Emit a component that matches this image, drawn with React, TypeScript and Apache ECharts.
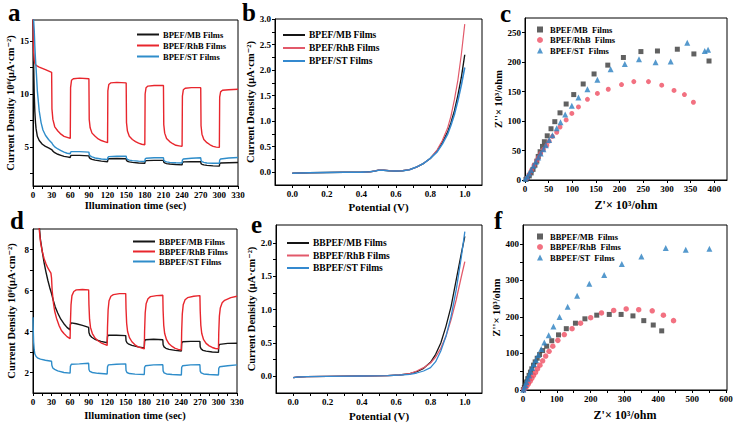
import React, { useEffect, useRef } from "react";
import * as echarts from "echarts";

// ---------- Panel a : BPEF photocurrent ----------
const aMB = [[0,18],[1,13],[2,10],[3,8.3],[4,7.3],[5,6.7],[7,6.0],[10,5.6],[15,5.25],[20,5.05],[25,4.9],[30,4.75],[32,4.6],[35,4.45],[40,4.3],[45,4.2],[50,4.1],[55,4.05],[60,4.0],
[60.5,4.15],[62,4.2],[75,4.2],[90,4.15],[90.5,4.0],[92,3.9],[95,3.82],[100,3.75],[110,3.65],[120,3.6],
[120.5,3.8],[122,3.88],[135,3.9],[150,3.88],[150.5,3.72],[152,3.64],[155,3.58],[160,3.53],[170,3.48],[180,3.45],
[180.5,3.62],[182,3.7],[195,3.72],[210,3.72],[210.5,3.55],[212,3.48],[215,3.42],[220,3.38],[230,3.33],[240,3.3],
[240.5,3.5],[242,3.58],[255,3.6],[270,3.6],[270.5,3.42],[272,3.35],[275,3.3],[280,3.25],[290,3.2],[300,3.18],
[300.5,3.4],[302,3.48],[315,3.5],[330,3.52]];
const aRhB = [[0,17.5],[1,14],[2,13.2],[3,12.9],[5,12.7],[10,12.55],[20,12.3],[30,12.05],
[30.5,8.6],[32,7.6],[35,6.9],[40,6.5],[45,6.2],[50,6.0],[55,5.9],[60,5.8],
[60.5,10.6],[62,11.3],[65,11.45],[75,11.5],[90,11.45],
[90.5,7.6],[92,6.8],[95,6.3],[100,6.0],[105,5.75],[110,5.6],[115,5.5],[120,5.4],
[120.5,10.3],[122,10.9],[125,11.05],[135,11.1],[150,11.05],
[150.5,7.3],[152,6.5],[155,6.0],[160,5.7],[165,5.5],[170,5.35],[175,5.25],[180,5.2],
[180.5,10.0],[182,10.6],[185,10.75],[195,10.8],[210,10.8],
[210.5,7.1],[212,6.3],[215,5.8],[220,5.5],[225,5.3],[230,5.15],[235,5.1],[240,5.05],
[240.5,9.8],[242,10.4],[245,10.55],[255,10.6],[270,10.6],
[270.5,7.0],[272,6.2],[275,5.7],[280,5.4],[285,5.2],[290,5.05],[295,4.98],[300,4.95],
[300.5,9.7],[302,10.2],[305,10.35],[315,10.4],[330,10.45]];
const aST = [[0,18],[2,16],[3,14.5],[4,13.3],[5,12.4],[7,10.3],[10,8.4],[13,7.3],[16,6.6],[20,6.1],[25,5.7],[30,5.4],[32,5.2],[35,5.0],[40,4.8],[45,4.65],[50,4.5],[55,4.4],[60,4.35],
[60.5,4.5],[62,4.55],[75,4.55],[90,4.5],[90.5,4.3],[92,4.15],[95,4.05],[100,3.95],[110,3.85],[120,3.8],
[120.5,4.0],[122,4.08],[135,4.12],[150,4.12],[150.5,3.92],[152,3.82],[155,3.75],[160,3.7],[170,3.65],[180,3.62],
[180.5,3.85],[182,3.93],[195,3.97],[210,3.97],[210.5,3.75],[212,3.65],[215,3.58],[220,3.53],[230,3.5],[240,3.48],
[240.5,3.75],[242,3.85],[255,3.92],[270,3.97],[270.5,3.72],[272,3.6],[275,3.53],[280,3.48],[290,3.45],[300,3.45],
[300.5,3.75],[302,3.85],[315,3.95],[330,4.0]];

// ---------- Panel b : BPEF LSV ----------
const bMB = [[0,-0.02],[0.05,-0.015],[0.1,-0.01],[0.2,-0.005],[0.3,0],[0.4,0.003],[0.45,0.008],[0.48,0.025],[0.5,0.04],[0.53,0.04],[0.56,0.03],[0.6,0.025],[0.64,0.03],[0.68,0.05],[0.72,0.1],[0.76,0.17],[0.8,0.27],[0.84,0.42],[0.87,0.58],[0.9,0.78],[0.92,0.97],[0.94,1.2],[0.96,1.5],[0.98,1.85],[1.0,2.3]];
const bRhB = [[0,-0.02],[0.05,-0.015],[0.1,-0.01],[0.2,-0.005],[0.3,0],[0.4,0.003],[0.45,0.008],[0.48,0.025],[0.5,0.04],[0.53,0.04],[0.56,0.03],[0.6,0.025],[0.64,0.03],[0.68,0.05],[0.72,0.1],[0.76,0.17],[0.8,0.27],[0.84,0.44],[0.87,0.62],[0.9,0.86],[0.92,1.1],[0.94,1.42],[0.96,1.8],[0.98,2.3],[1.0,2.9]];
const bST = [[0,-0.02],[0.05,-0.015],[0.1,-0.01],[0.2,-0.005],[0.3,0],[0.4,0.003],[0.45,0.008],[0.48,0.025],[0.5,0.04],[0.53,0.04],[0.56,0.03],[0.6,0.025],[0.64,0.03],[0.68,0.05],[0.72,0.1],[0.76,0.17],[0.8,0.27],[0.84,0.4],[0.87,0.55],[0.9,0.74],[0.92,0.92],[0.94,1.13],[0.96,1.4],[0.98,1.7],[1.0,2.05]];

// ---------- Panel c : BPEF Nyquist ----------
const cMB = [[389,202],[357,214],[322,222],[280,219],[245,218],[208,208],[175,195],[146,180],[123,163],[103,145],[87,129],[74,114],[63,99],[55,87],[47,75],[41,65],[37,57],[32,48],[28,40],[25,32],[21,25],[17,18],[13,12],[9,7],[5,3],[2,1]];
const cRhB = [[356,132],[337,145],[315,152],[289,161],[261,167],[230,167],[204,162],[176,154],[153,147],[132,137],[113,124],[99,113],[87,102],[74,90],[67,81],[58,74],[51,66],[46,59],[39,52],[33,45],[28,38],[25,33],[19,25],[14,17],[9,10],[4,3]];
const cST = [[387,221],[380,219],[343,233],[308,201],[276,200],[241,205],[211,197],[181,188],[153,170],[132,154],[113,140],[99,126],[85,111],[75,98],[67,88],[58,76],[51,68],[44,59],[39,52],[33,45],[28,38],[23,31],[18,24],[13,17],[9,11],[5,6],[1,2]];

// ---------- Panel d : BBPEF photocurrent ----------
const dMB = [[9,9.6],[10,9.2],[12,8.5],[15,7.9],[18,7.35],[21,6.9],[24,6.5],[27,6.15],[30,5.85],[33,5.5],[36,5.2],[40,4.9],[45,4.6],[50,4.38],[55,4.2],[60,4.08],
[60.5,4.35],[62,4.42],[70,4.38],[80,4.3],[90,4.2],
[90.5,3.95],[92,3.82],[95,3.72],[100,3.62],[110,3.52],[120,3.45],
[120.5,3.75],[122,3.82],[135,3.82],[150,3.8],
[150.5,3.55],[152,3.45],[155,3.38],[160,3.32],[170,3.25],[180,3.2],
[180.5,3.52],[182,3.6],[195,3.62],[210,3.6],
[210.5,3.35],[212,3.25],[215,3.18],[220,3.13],[230,3.08],[240,3.05],
[240.5,3.42],[242,3.5],[255,3.52],[270,3.52],
[270.5,3.25],[272,3.15],[275,3.08],[280,3.04],[290,3.0],[300,2.98],
[300.5,3.3],[302,3.37],[315,3.42],[330,3.43]];
const dRhB = [[8,9.6],[10,9.0],[12,8.4],[15,7.9],[18,7.55],[21,7.3],[24,7.1],[27,6.95],[29,6.85],[30,6.6],[31,6.0],[33,5.4],[35,5.0],[38,4.65],[42,4.3],[46,4.05],[50,3.9],[55,3.75],[60,3.65],
[60.5,4.4],[61.5,5.3],[63,5.75],[66,5.95],[70,6.03],[80,6.05],[90,6.03],
[90.5,5.3],[91.5,4.6],[93,4.2],[96,3.9],[100,3.7],[105,3.55],[110,3.45],[115,3.38],[120,3.32],
[120.5,4.2],[121.5,5.05],[123,5.5],[126,5.72],[130,5.8],[140,5.85],[150,5.85],
[150.5,5.1],[151.5,4.4],[153,4.0],[156,3.7],[160,3.5],[165,3.35],[170,3.25],[175,3.2],[180,3.15],
[180.5,4.0],[181.5,4.9],[183,5.35],[186,5.6],[190,5.7],[200,5.75],[210,5.77],
[210.5,5.0],[211.5,4.3],[213,3.9],[216,3.6],[220,3.4],[225,3.27],[230,3.18],[235,3.13],[240,3.1],
[240.5,4.0],[241.5,4.85],[243,5.3],[246,5.55],[250,5.65],[260,5.72],[270,5.75],
[270.5,5.0],[271.5,4.3],[273,3.9],[276,3.6],[280,3.42],[285,3.3],[290,3.22],[295,3.17],[300,3.15],
[300.5,3.95],[301.5,4.75],[303,5.15],[306,5.4],[310,5.52],[320,5.65],[330,5.72]];
const dST = [[0,4.7],[0.5,4.0],[1,3.5],[2,3.1],[3,2.9],[5,2.78],[8,2.7],[12,2.65],[20,2.6],[30,2.55],
[30.5,2.35],[32,2.22],[35,2.15],[40,2.08],[50,2.0],[60,1.97],
[60.5,2.3],[62,2.4],[75,2.42],[90,2.45],
[90.5,2.15],[92,2.05],[96,2.0],[105,1.96],[120,1.93],
[120.5,2.28],[122,2.37],[135,2.4],[150,2.42],
[150.5,2.1],[152,2.0],[156,1.95],[165,1.92],[180,1.9],
[180.5,2.25],[182,2.33],[195,2.37],[210,2.38],
[210.5,2.08],[212,1.98],[216,1.93],[225,1.9],[240,1.88],
[240.5,2.25],[242,2.33],[255,2.37],[270,2.38],
[270.5,2.07],[272,1.98],[276,1.93],[285,1.9],[300,1.88],
[300.5,2.2],[302,2.28],[315,2.33],[330,2.37]];

// ---------- Panel e : BBPEF LSV ----------
const eMB = [[0,-0.02],[0.03,-0.01],[0.08,-0.003],[0.2,0],[0.4,0.005],[0.55,0.01],[0.62,0.02],[0.68,0.04],[0.72,0.07],[0.76,0.12],[0.8,0.21],[0.83,0.33],[0.86,0.5],[0.89,0.75],[0.92,1.05],[0.95,1.45],[0.98,1.85],[1.0,2.1]];
const eRhB = [[0,-0.02],[0.03,-0.01],[0.08,-0.003],[0.2,0],[0.4,0.005],[0.55,0.01],[0.62,0.02],[0.68,0.04],[0.72,0.08],[0.76,0.13],[0.8,0.2],[0.83,0.29],[0.86,0.42],[0.89,0.6],[0.92,0.85],[0.95,1.15],[0.98,1.5],[1.0,1.72]];
const eST = [[0,-0.02],[0.03,-0.01],[0.08,-0.003],[0.2,0],[0.4,0.005],[0.55,0.01],[0.62,0.02],[0.68,0.03],[0.72,0.05],[0.76,0.08],[0.8,0.13],[0.83,0.22],[0.86,0.38],[0.89,0.6],[0.92,0.9],[0.95,1.3],[0.98,1.8],[1.0,2.17]];

// ---------- Panel f : BBPEF Nyquist ----------
const fMB = [[410,162],[385,178],[357,190],[325,203],[290,207],[255,207],[218,205],[183,195],[155,183],[128,168],[105,151],[85,135],[70,120],[58,108],[49,97],[42,87],[36,77],[31,68],[26,58],[22,49],[18,40],[14,31],[10,22],[7,14],[4,7],[1,1]];
const fRhB = [[445,190],[415,205],[382,217],[342,220],[305,222],[268,218],[232,211],[200,198],[170,183],[145,168],[122,152],[103,136],[88,120],[77,106],[67,93],[58,80],[50,68],[43,58],[37,48],[31,40],[26,32],[21,24],[16,17],[11,10],[6,5],[2,1]];
const fST = [[551,387],[481,384],[422,389],[350,366],[292,345],[240,315],[196,291],[160,258],[132,228],[108,200],[90,174],[76,150],[63,130],[54,112],[45,96],[38,82],[32,71],[27,60],[22,50],[18,40],[14,31],[10,22],[7,14],[4,7],[1,1]];

// ---------- Tick labels ----------
const timeTicks = [0, 30, 60, 90, 120, 150, 180, 210, 240, 270, 300, 330];
const timeMinor = [15, 45, 75, 105, 135, 165, 195, 225, 255, 285, 315];
const aYTicks = [5, 10, 15];
const aYMinor = [2.5, 7.5, 12.5];
const potTicks = [0, 0.2, 0.4, 0.6, 0.8, 1.0];
const potMinor = [0.1, 0.3, 0.5, 0.7, 0.9];
const bYTicks = [0, 0.5, 1.0, 1.5, 2.0, 2.5, 3.0];
const bYMinor = [0.25, 0.75, 1.25, 1.75, 2.25, 2.75];
const cXTicks = [0, 50, 100, 150, 200, 250, 300, 350, 400];
const cYTicks = [0, 50, 100, 150, 200, 250];
const dYTicks = [2, 4, 6, 8];
const dYMinor = [3, 5, 7];
const eYTicks = [0, 0.5, 1.0, 1.5, 2.0];
const eYMinor = [0.25, 0.75, 1.25, 1.75];
const fXTicks = [0, 100, 200, 300, 400, 500, 600];
const fXMinor = [50, 150, 250, 350, 450, 550];
const fYTicks = [0, 100, 200, 300, 400];
const fYMinor = [50, 150, 250, 350];

const FONT = '"Liberation Serif", "Times New Roman", "DejaVu Serif", serif';
const BLACK = "#151515";
const RED = "#e8262d";
const BLUE = "#2f8dca";
const PINK = "#e2596a";
const LBLUE = "#3489cf";
const SQ = "#3a3a3a";
const CRED = "#ef4d62";
const TRI = "#2a7fc0";

function axis(gi: number, min: number, max: number, labels: number[], ticks: number[], name: string, nameGap: number, nameSize: number, fmt: (v: number) => string) {
  return {
    type: "value",
    gridIndex: gi,
    min,
    max,
    name,
    nameLocation: "middle",
    nameGap,
    nameTextStyle: { fontFamily: FONT, fontWeight: "bold", fontSize: nameSize, color: "#000" },
    axisLine: { show: true, onZero: false, lineStyle: { color: "#000", width: 1 } },
    axisTick: { show: true, inside: false, length: 3, customValues: ticks, lineStyle: { color: "#000" } },
    axisLabel: { customValues: labels, formatter: fmt, fontFamily: FONT, fontWeight: "bold", fontSize: 9, color: "#000", margin: 4 },
    splitLine: { show: false },
  };
}

const f0 = (v: number) => String(Math.round(v));
const f1 = (v: number) => v.toFixed(1);

function lineSeries(name: string, data: number[][], gi: number, color: string, width: number) {
  return {
    type: "line",
    name,
    data,
    xAxisIndex: gi,
    yAxisIndex: gi,
    showSymbol: false,
    symbol: "none",
    lineStyle: { color, width },
    itemStyle: { color },
    clip: true,
    z: 3,
  };
}

function scatterSeries(name: string, data: number[][], gi: number, color: string, symbol: string, size: number) {
  return {
    type: "scatter",
    name,
    data,
    xAxisIndex: gi,
    yAxisIndex: gi,
    symbol,
    symbolSize: size,
    itemStyle: { color },
  };
}

function legend(names: string[], left: number, top: number, gap: number, size: number, line: boolean) {
  return {
    data: names,
    orient: "vertical",
    left,
    top,
    itemGap: gap,
    itemWidth: line ? 22 : 6,
    itemHeight: line ? 2 : 6,
    icon: line ? "rect" : undefined,
    selectedMode: false,
    padding: 0,
    textStyle: { fontFamily: FONT, fontWeight: "bold", fontSize: size, color: "#000", padding: [0, 0, 0, line ? -1 : 2] },
  };
}

function letter(t: string, x: number, y: number) {
  return {
    type: "text",
    left: x,
    top: y,
    style: { text: t, font: 'bold 25px "Liberation Serif", serif', fill: "#000" },
  };
}

export default function App() {
  const ref = useRef<HTMLDivElement>(null);
  useEffect(() => {
    if (!ref.current) return;
    const chart = echarts.init(ref.current, undefined, { renderer: "svg" });
    const gridBase = { show: true, borderColor: "#000", borderWidth: 1, backgroundColor: "transparent", containLabel: false };
    const option = {
      animation: false,
      backgroundColor: "#fff",
      grid: [
        { ...gridBase, left: 33, top: 20, width: 205, height: 166 },
        { ...gridBase, left: 275, top: 19, width: 207, height: 166 },
        { ...gridBase, left: 525, top: 18, width: 202, height: 162 },
        { ...gridBase, left: 33, top: 229, width: 204, height: 164 },
        { ...gridBase, left: 276, top: 225, width: 206, height: 168 },
        { ...gridBase, left: 523, top: 225, width: 204, height: 165 },
      ],
      xAxis: [
        axis(0, 0, 330, timeTicks, [...timeTicks, ...timeMinor], "Illumination time (sec)", 14, 10.5, f0),
        axis(1, -0.1, 1.1, potTicks, [...potTicks, ...potMinor], "Potential (V)", 16, 11, f1),
        axis(2, 0, 427, cXTicks, cXTicks, "Z'× 10³/ohm", 19, 12, f0),
        axis(3, 0, 330, timeTicks, [...timeTicks, ...timeMinor], "Illumination time (sec)", 17, 10.5, f0),
        axis(4, -0.1, 1.1, potTicks, [...potTicks, ...potMinor], "Potential (V)", 17, 11, f1),
        axis(5, 0, 603, fXTicks, [...fXTicks, ...fXMinor], "Z'× 10³/ohm", 19, 12, f0),
      ],
      yAxis: [
        axis(0, 1.3, 17, aYTicks, [...aYTicks, ...aYMinor], "Current Density 10⁶(μA·cm⁻²)", 16, 10.5, f0),
        axis(1, -0.25, 3.0, bYTicks, [...bYTicks, ...bYMinor], "Current Density (μA·cm⁻²)", 19, 10.5, f1),
        axis(2, 0, 275, cYTicks, cYTicks, "Z''× 10³/ohm", 21, 10.5, f0),
        axis(3, 1, 9, dYTicks, [...dYTicks, ...dYMinor], "Current Density 10⁶(μA·cm⁻²)", 16, 10.5, f0),
        axis(4, -0.25, 2.27, eYTicks, [...eYTicks, ...eYMinor], "Current Denisity (μA·cm⁻²)", 19, 10.5, f1),
        axis(5, 0, 452, fYTicks, [...fYTicks, ...fYMinor], "Z''× 10³/ohm", 20, 10.5, f0),
      ],
      legend: [
        legend(["BPEF/MB Films", "BPEF/RhB Films", "BPEF/ST Films"], 137, 30, 2, 8.5, true),
        legend(["BPEF/MB Films ", "BPEF/RhB Films ", "BPEF/ST Films "], 283, 30, 3, 9.5, true),
        legend(["BPEF/MB  Films", "BPEF/RhB  Films", "BPEF/ST  Films"], 537, 25, 1.5, 8.5, false),
        legend(["BBPEF/MB Films", "BBPEF/RhB Films", "BBPEF/ST Films"], 133, 237, 1, 8.5, true),
        legend(["BBPEF/MB Films ", "BBPEF/RhB Films ", "BBPEF/ST Films "], 287, 238, 2.5, 9.5, true),
        legend(["BBPEF/MB  Films", "BBPEF/RhB  Films", "BBPEF/ST  Films"], 537, 232, 1.5, 8.5, false),
      ],
      graphic: [
        letter("a", 8, 0),
        letter("b", 242, 0),
        letter("c", 500, 1),
        letter("d", 10, 208),
        letter("e", 251, 212),
        letter("f", 494, 208),
      ],
      series: [
        lineSeries("BPEF/MB Films", aMB, 0, BLACK, 1.4),
        lineSeries("BPEF/RhB Films", aRhB, 0, RED, 1.4),
        lineSeries("BPEF/ST Films", aST, 0, BLUE, 1.4),
        lineSeries("BPEF/MB Films ", bMB, 1, BLACK, 1.4),
        lineSeries("BPEF/RhB Films ", bRhB, 1, PINK, 1.2),
        lineSeries("BPEF/ST Films ", bST, 1, LBLUE, 1.6),
        scatterSeries("BPEF/MB  Films", cMB, 2, SQ, "rect", 5),
        scatterSeries("BPEF/RhB  Films", cRhB, 2, CRED, "circle", 5),
        scatterSeries("BPEF/ST  Films", cST, 2, TRI, "triangle", 6),
        lineSeries("BBPEF/MB Films", dMB, 3, BLACK, 1.4),
        lineSeries("BBPEF/RhB Films", dRhB, 3, RED, 1.4),
        lineSeries("BBPEF/ST Films", dST, 3, BLUE, 1.4),
        lineSeries("BBPEF/MB Films ", eMB, 4, BLACK, 1.3),
        lineSeries("BBPEF/RhB Films ", eRhB, 4, PINK, 1.3),
        lineSeries("BBPEF/ST Films ", eST, 4, LBLUE, 1.3),
        scatterSeries("BBPEF/MB  Films", fMB, 5, SQ, "rect", 5),
        scatterSeries("BBPEF/RhB  Films", fRhB, 5, CRED, "circle", 5.5),
        scatterSeries("BBPEF/ST  Films", fST, 5, TRI, "triangle", 6),
      ],
    };
    chart.setOption(option as any);
    return () => chart.dispose();
  }, []);
  return <div ref={ref} style={{ position: "fixed", left: 0, top: 0, width: 737, height: 426, background: "#fff" }} />;
}
